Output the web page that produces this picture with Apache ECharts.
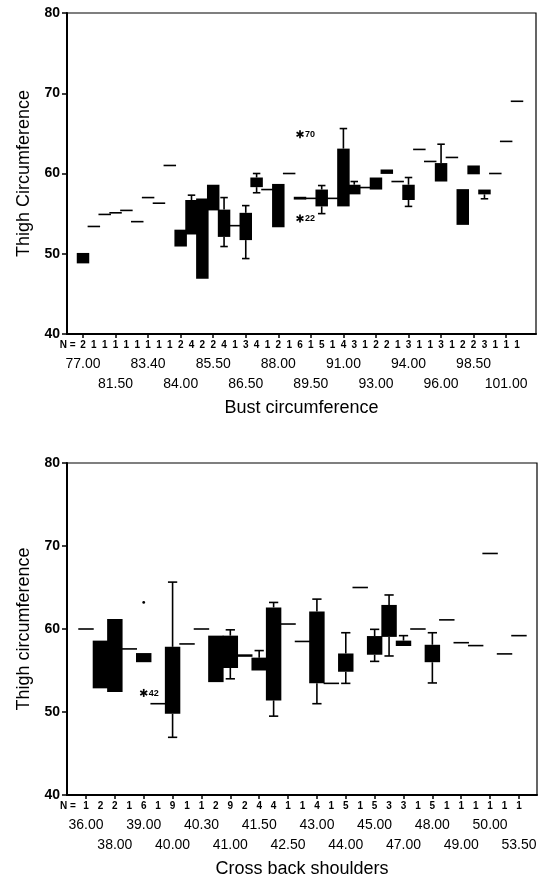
<!DOCTYPE html>
<html>
<head>
<meta charset="utf-8">
<script src="https://cdn.jsdelivr.net/npm/echarts@6/dist/echarts.min.js"></script>
<style>
  html, body { margin: 0; padding: 0; background: #fff; }
  #main { width: 543px; height: 883px; }
</style>
</head>
<body>
<div id="main"></div>
<script>
// ---- top panel: thigh vs bust circumference ----
const bustCats = ['77.00', '79.00', '80.00', '81.50', '82.00', '83.00', '83.40', '83.50', '83.80', '84.00',
  '84.50', '85.00', '85.50', '86.00', '86.30', '86.50', '87.00', '87.50', '88.00', '88.50',
  '89.00', '89.50', '90.00', '90.50', '91.00', '91.50', '92.00', '93.00', '93.50', '93.80',
  '94.00', '94.50', '95.00', '96.00', '97.00', '98.00', '98.50', '99.00', '100.00', '101.00', '104.00'];
const bustN = [2, 1, 1, 1, 1, 1, 1, 1, 1, 2, 4, 2, 2, 4, 1, 3, 4, 1, 2, 1, 6, 1, 5, 1, 4, 3, 1, 2, 2, 1,
  3, 1, 1, 3, 1, 2, 2, 3, 1, 1, 1];
// [min, q1, median, q3, max]
const bustBoxes = [
  [48.8, 48.8, 49.4, 50.1, 50.1], [53.4, 53.4, 53.4, 53.4, 53.4], [54.9, 54.9, 54.9, 54.9, 54.9],
  [55.1, 55.1, 55.1, 55.1, 55.1], [55.4, 55.4, 55.4, 55.4, 55.4], [54.0, 54.0, 54.0, 54.0, 54.0],
  [57.0, 57.0, 57.0, 57.0, 57.0], [56.3, 56.3, 56.3, 56.3, 56.3], [61.0, 61.0, 61.0, 61.0, 61.0],
  [50.9, 50.9, 52.0, 53.0, 53.0], [52.4, 52.4, 54.5, 56.7, 57.3], [46.9, 46.9, 52.0, 56.9, 56.9],
  [55.4, 55.4, 57.0, 58.6, 58.6], [50.9, 52.1, 53.5, 55.5, 57.0], [53.5, 53.5, 53.5, 53.5, 53.5],
  [49.4, 51.7, 53.0, 55.1, 56.0], [57.6, 58.3, 58.9, 59.5, 60.0], [58.0, 58.0, 58.0, 58.0, 58.0],
  [53.3, 53.3, 56.0, 58.7, 58.7], [60.0, 60.0, 60.0, 60.0, 60.0], [56.75, 56.75, 56.9, 57.1, 57.1],
  [56.9, 56.9, 56.9, 56.9, 56.9], [55.0, 55.9, 57.0, 58.0, 58.5], [56.9, 56.9, 56.9, 56.9, 56.9],
  [55.9, 55.9, 58.0, 63.1, 65.6], [57.4, 57.4, 58.0, 58.6, 59.0], [58.25, 58.25, 58.25, 58.25, 58.25],
  [58.0, 58.0, 58.8, 59.5, 59.5], [59.95, 59.95, 60.2, 60.5, 60.5], [59.0, 59.0, 59.0, 59.0, 59.0],
  [55.9, 56.7, 57.5, 58.6, 59.5], [63.0, 63.0, 63.0, 63.0, 63.0], [61.5, 61.5, 61.5, 61.5, 61.5],
  [59.0, 59.0, 60.0, 61.3, 63.65], [62.0, 62.0, 62.0, 62.0, 62.0], [53.6, 53.6, 55.8, 58.05, 58.05],
  [59.9, 59.9, 60.4, 61.0, 61.0], [56.85, 57.4, 57.7, 58.0, 58.0], [60.0, 60.0, 60.0, 60.0, 60.0],
  [64.0, 64.0, 64.0, 64.0, 64.0], [69.0, 69.0, 69.0, 69.0, 69.0]
];
// [category index, value, case label, marker]
const bustOutliers = [[20, 64.9, '70', 'star'], [20, 54.4, '22', 'star']];

// ---- bottom panel: thigh vs cross back shoulders ----
const shoulderCats = ['36.00', '37.00', '38.00', '38.50', '39.00', '39.50', '40.00', '40.20', '40.30', '40.50',
  '41.00', '41.20', '41.50', '42.00', '42.50', '42.80', '43.00', '43.50', '44.00', '44.50',
  '45.00', '46.00', '47.00', '47.50', '48.00', '48.50', '49.00', '49.50', '50.00', '51.00', '53.50'];
const shoulderN = [1, 2, 2, 1, 6, 1, 9, 1, 1, 2, 9, 2, 4, 4, 1, 1, 4, 1, 5, 1, 5, 3, 3, 1, 5, 1, 1, 1, 1, 1, 1];
const shoulderBoxes = [
  [60.0, 60.0, 60.0, 60.0, 60.0], [52.85, 52.85, 55.7, 58.6, 58.6], [52.4, 52.4, 56.8, 61.2, 61.2],
  [57.6, 57.6, 57.6, 57.6, 57.6], [56.0, 56.0, 56.5, 57.1, 57.1], [51.0, 51.0, 51.0, 51.0, 51.0],
  [46.95, 49.8, 53.0, 57.85, 65.65], [58.2, 58.2, 58.2, 58.2, 58.2], [60.0, 60.0, 60.0, 60.0, 60.0],
  [53.6, 53.6, 56.4, 59.2, 59.2], [54.0, 55.3, 57.5, 59.2, 59.9], [56.7, 56.7, 56.8, 56.9, 56.9],
  [55.0, 55.0, 55.8, 56.55, 57.4], [49.5, 51.4, 57.0, 62.6, 63.2], [60.6, 60.6, 60.6, 60.6, 60.6],
  [58.5, 58.5, 58.5, 58.5, 58.5], [51.0, 53.45, 58.0, 62.1, 63.6], [53.45, 53.45, 53.45, 53.45, 53.45],
  [53.45, 54.85, 56.0, 57.05, 59.55], [65.0, 65.0, 65.0, 65.0, 65.0], [56.1, 56.9, 58.0, 59.15, 59.96],
  [56.75, 59.05, 60.5, 62.9, 64.1], [57.95, 57.95, 58.3, 58.6, 59.2], [60.0, 60.0, 60.0, 60.0, 60.0],
  [53.5, 56.0, 57.0, 58.1, 59.55], [61.1, 61.1, 61.1, 61.1, 61.1], [58.35, 58.35, 58.35, 58.35, 58.35],
  [58.0, 58.0, 58.0, 58.0, 58.0], [69.1, 69.1, 69.1, 69.1, 69.1], [57.0, 57.0, 57.0, 57.0, 57.0],
  [59.2, 59.2, 59.2, 59.2, 59.2]
];
const shoulderOutliers = [[4, 63.2, '', 'dot'], [4, 52.3, '42', 'star']];

const yTicks = [40, 50, 60, 70, 80];
const FONT = 'Liberation Sans, Arial, sans-serif';

const range = (n) => Array.from({ length: n }, (_, i) => i);

// box: black filled rect, whiskers with caps; single values become a short line
function boxRenderer(ratio) {
  return function (params, api) {
    const i = api.value(0);
    const lo = api.value(1), q1 = api.value(2), q3 = api.value(4), hi = api.value(5);
    const w = api.size([1, 0])[0] * ratio;
    const pLo = api.coord([i, lo]), pQ1 = api.coord([i, q1]);
    const pQ3 = api.coord([i, q3]), pHi = api.coord([i, hi]);
    const x = pLo[0];
    const ink = { stroke: '#000', lineWidth: 1.6 };
    const kids = [];
    if (hi - lo < 0.01) {
      kids.push({ type: 'line', shape: { x1: x - w / 2, y1: pLo[1], x2: x + w / 2, y2: pLo[1] }, style: ink });
      return { type: 'group', children: kids };
    }
    const h = Math.max(pQ1[1] - pQ3[1], 2.5);
    const mid = (pQ1[1] + pQ3[1]) / 2;
    kids.push({ type: 'rect', shape: { x: x - w / 2, y: mid - h / 2, width: w, height: h }, style: { fill: '#000' } });
    const cap = w * 0.3;
    if (hi > q3) {
      kids.push({ type: 'line', shape: { x1: x, y1: pHi[1], x2: x, y2: pQ3[1] }, style: ink });
      kids.push({ type: 'line', shape: { x1: x - cap, y1: pHi[1], x2: x + cap, y2: pHi[1] }, style: ink });
    }
    if (lo < q1) {
      kids.push({ type: 'line', shape: { x1: x, y1: pQ1[1], x2: x, y2: pLo[1] }, style: ink });
      kids.push({ type: 'line', shape: { x1: x - cap, y1: pLo[1], x2: x + cap, y2: pLo[1] }, style: ink });
    }
    return { type: 'group', children: kids };
  };
}

function outlierRenderer(list) {
  return function (params, api) {
    const o = list[params.dataIndex];
    const p = api.coord([api.value(0), api.value(1)]);
    const kids = [];
    if (o[3] === 'dot') {
      kids.push({ type: 'circle', shape: { cx: p[0], cy: p[1], r: 1.4 }, style: { fill: '#000' } });
    } else {
      const r = 4;
      [0, 60, 120].forEach(a => {
        const t = a * Math.PI / 180;
        kids.push({ type: 'line', shape: { x1: p[0] - r * Math.sin(t), y1: p[1] - r * Math.cos(t),
          x2: p[0] + r * Math.sin(t), y2: p[1] + r * Math.cos(t) }, style: { stroke: '#000', lineWidth: 1.7 } });
      });
    }
    if (o[2]) {
      kids.push({ type: 'text', style: { text: o[2], x: p[0] + 5, y: p[1] + 0.5, verticalAlign: 'middle',
        font: 'bold 9px ' + FONT, fill: '#000' } });
    }
    return { type: 'group', children: kids };
  };
}

function panelAxes(grid, cats, counts, min, max, step, title) {
  const all = range(cats.length);
  const ticks = all.filter(i => i % step === 0);
  const row1 = ticks.filter(i => (i / step) % 2 === 0);
  const row2 = ticks.filter(i => (i / step) % 2 === 1);
  const base = {
    gridIndex: grid, type: 'value', min: min, max: max, position: 'bottom',
    splitLine: { show: false }, axisTick: { show: false }, axisLine: { show: false, onZero: false }
  };
  return [
    Object.assign({}, base, {
      axisLine: { show: true, onZero: false, lineStyle: { color: '#000', width: 2 } },
      axisTick: { show: true, customValues: ticks, length: 4, lineStyle: { color: '#000', width: 1.5 } },
      axisLabel: {
        customValues: [min + 0.07].concat(all),
        formatter: v => (v < 0 ? 'N =' : String(counts[Math.round(v)])),
        margin: 6, fontSize: 10, fontWeight: 'bold', color: '#000', fontFamily: FONT
      }
    }),
    Object.assign({}, base, {
      axisLabel: { customValues: row1, formatter: v => cats[Math.round(v)], margin: 23,
        fontSize: 14, color: '#000', fontFamily: FONT }
    }),
    Object.assign({}, base, {
      axisLabel: { customValues: row2, formatter: v => cats[Math.round(v)], margin: 43,
        fontSize: 14, color: '#000', fontFamily: FONT },
      name: title, nameLocation: 'middle', nameGap: 65,
      nameTextStyle: { fontSize: 18, color: '#000', fontFamily: FONT }
    })
  ];
}

function yAxis(grid, title) {
  return {
    gridIndex: grid, type: 'value', min: 40, max: 80, interval: 10, position: 'left',
    axisLine: { show: true, onZero: false, lineStyle: { color: '#000', width: 2 } },
    axisTick: { show: true, length: 5, lineStyle: { color: '#000', width: 1.5 } },
    axisLabel: { margin: 7, fontSize: 14, fontWeight: 'bold', color: '#000', fontFamily: FONT,
      formatter: v => (yTicks.indexOf(v) >= 0 ? String(v) : '') },
    splitLine: { show: false },
    name: title, nameLocation: 'middle', nameGap: 34,
    nameTextStyle: { fontSize: 18, color: '#000', fontFamily: FONT }
  };
}

const chart = echarts.init(document.getElementById('main'), null, { renderer: 'canvas' });

chart.setOption({
  backgroundColor: '#fff',
  animation: false,
  grid: [
    { left: 67, top: 13, width: 469, height: 321, show: true, borderColor: '#000', borderWidth: 1.2,
      outerBoundsMode: 'none' },
    { left: 67, top: 463, width: 470, height: 332, show: true, borderColor: '#000', borderWidth: 1.2,
      outerBoundsMode: 'none' }
  ],
  xAxis: panelAxes(0, bustCats, bustN, -1.475, 41.75, 3, 'Bust circumference')
    .concat(panelAxes(1, shoulderCats, shoulderN, -1.316, 31.25, 2, 'Cross back shoulders')),
  yAxis: [yAxis(0, 'Thigh Circumference'), yAxis(1, 'Thigh circumference')],
  series: [
    {
      type: 'custom', xAxisIndex: 0, yAxisIndex: 0,
      renderItem: boxRenderer(1.15),
      encode: { x: 0, y: [1, 2, 3, 4, 5] },
      data: bustBoxes.map((b, i) => [i].concat(b))
    },
    {
      type: 'custom', xAxisIndex: 0, yAxisIndex: 0,
      renderItem: outlierRenderer(bustOutliers),
      encode: { x: 0, y: 1 },
      data: bustOutliers.map(o => [o[0], o[1]])
    },
    {
      type: 'custom', xAxisIndex: 3, yAxisIndex: 1,
      renderItem: boxRenderer(1.07),
      encode: { x: 0, y: [1, 2, 3, 4, 5] },
      data: shoulderBoxes.map((b, i) => [i].concat(b))
    },
    {
      type: 'custom', xAxisIndex: 3, yAxisIndex: 1,
      renderItem: outlierRenderer(shoulderOutliers),
      encode: { x: 0, y: 1 },
      data: shoulderOutliers.map(o => [o[0], o[1]])
    }
  ]
});
</script>
</body>
</html>
